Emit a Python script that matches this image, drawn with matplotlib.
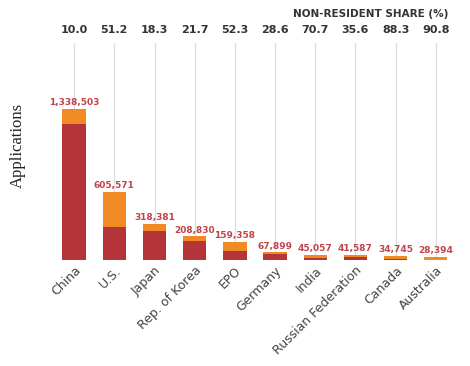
import matplotlib
matplotlib.use('Agg')
import matplotlib.pyplot as plt
from matplotlib.transforms import blended_transform_factory

offices = ['China', 'U.S.', 'Japan', 'Rep. of Korea', 'EPO', 'Germany',
           'India', 'Russian Federation', 'Canada', 'Australia']
totals = [1338503, 605571, 318381, 208830, 159358, 67899, 45057, 41587, 34745, 28394]
resident = [1204653, 295519, 260117, 163514, 76014, 48480, 13202, 26782, 4065, 2612]
non_resident = [133850, 310052, 58264, 45316, 83344, 19419, 31855, 14805, 30680, 25782]
share = ['10.0', '51.2', '18.3', '21.7', '52.3', '28.6', '70.7', '35.6', '88.3', '90.8']

red = '#b5343a'
orange = '#f08a24'

fig = plt.figure(figsize=(4.7, 3.66), dpi=100)
ax = fig.add_axes([0.115, 0.29, 0.855, 0.593])

x = list(range(len(offices)))
ax.bar(x, resident, width=0.58, color=red, zorder=3)
ax.bar(x, non_resident, width=0.58, bottom=resident, color=orange, zorder=3)

for i in x:
    ax.axvline(i, color='#dddddd', lw=0.9, zorder=1)
    ax.text(i, totals[i] + 15000, f'{totals[i]:,}', ha='center', va='bottom',
            fontsize=6.5, fontweight='bold', color='#c0444a', zorder=4)

trans = blended_transform_factory(ax.transData, ax.transAxes)
for i, s in enumerate(share):
    ax.text(i, 1.035, s, transform=trans, ha='center', va='bottom',
            fontsize=8, fontweight='bold', color='#333333')

fig.text(448 / 470, 1 - 14 / 366, 'NON-RESIDENT SHARE (%)', ha='right', va='center',
         fontsize=7.5, fontweight='bold', color='#333333')

ax.set_xlim(-0.5, 9.5)
ax.set_ylim(0, 1923000)
ax.set_xticks(x)
ax.set_xticklabels(offices, rotation=45, ha='right', rotation_mode='anchor',
                   fontsize=9, color='#444444')
ax.tick_params(axis='x', length=0, pad=3)
ax.set_yticks([])
for sp in ax.spines.values():
    sp.set_visible(False)

fig.text(18 / 470, 1 - 145 / 366, 'Applications', rotation=90, ha='center', va='center',
         fontsize=12, family='Liberation Serif', color='#222222')

fig.savefig('out.png', dpi=100)
